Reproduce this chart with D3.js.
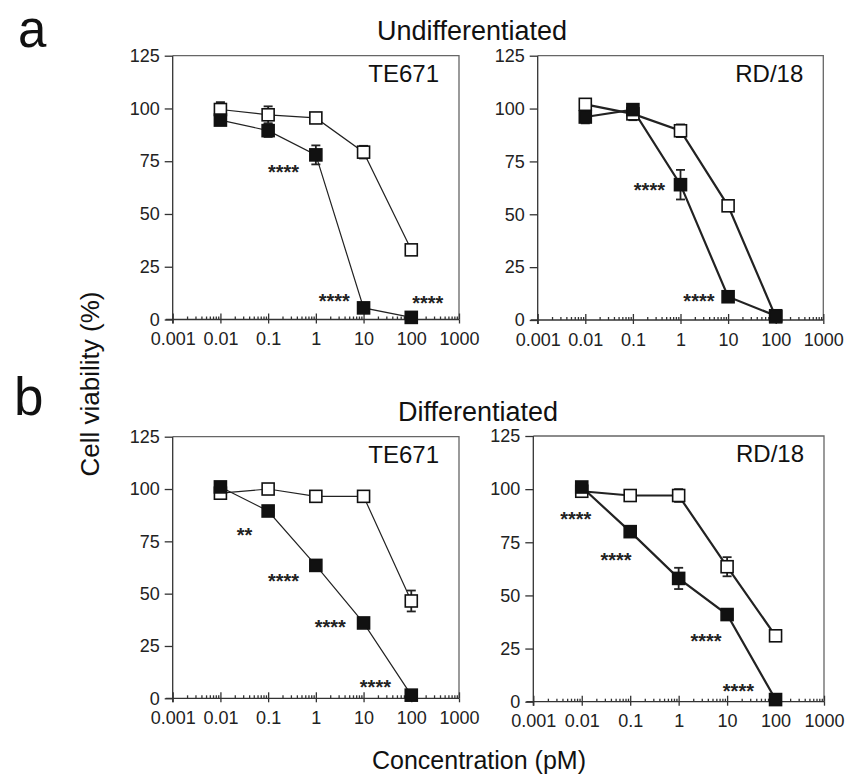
<!DOCTYPE html>
<meta charset="utf-8">
<body style="margin:0;background:#fff">

<svg width="846" height="776"></svg>

<script src="https://cdn.jsdelivr.net/npm/d3@7"></script>
<script>

// concentrations (pM) and axis ticks
var conc = [0.01, 0.1, 1, 10, 100];
var xTicks = [0.001, 0.01, 0.1, 1, 10, 100, 1000];
var xTickLabels = ['0.001', '0.01', '0.1', '1', '10', '100', '1000'];
var yTicks = [0, 25, 50, 75, 100, 125];

// a - undifferentiated, TE671
var undTeOpen = [99.5, 97, 95.5, 79.3, 33];
var undTeOpenErr = [3.5, 4, 1, 3, 1];
var undTeFilled = [94.5, 89.5, 78, 5.5, 1];
var undTeFilledErr = [2, 3, 4.5, 1, 0.5];
var undTeStars = [[0.21, 72, '****'], [2.43, 10.6, '****'], [221, 10, '****']];

// a - undifferentiated, RD/18
var undRdOpen = [102, 97.5, 89.5, 54, 1.5];
var undRdOpenErr = [1, 3, 3, 1, 0.5];
var undRdFilled = [96, 99.5, 64, 11, 2];
var undRdFilledErr = [3, 2, 7, 1, 1];
var undRdStars = [[0.222, 63.5, '****'], [2.44, 11, '****']];

// b - differentiated, TE671
var difTeOpen = [98, 100, 96.5, 96.5, 46.5];
var difTeOpenErr = [1, 1, 1, 1, 5];
var difTeFilled = [101, 89.5, 63.5, 36, 1.5];
var difTeFilledErr = [1, 1, 1, 1, 1];
var difTeStars = [[0.032, 80, '**'], [0.21, 58, '****'], [2.0, 36, '****'], [17.7, 7.2, '****']];

// b - differentiated, RD/18
var difRdOpen = [99, 97, 97, 63.5, 31];
var difRdOpenErr = [1, 1, 3, 4.5, 1];
var difRdFilled = [101, 80, 58, 41, 1];
var difRdFilledErr = [1, 1, 5, 1, 0.5];
var difRdStars = [[0.0075, 87.8, '****'], [0.051, 68.7, '****'], [3.67, 30.3, '****'], [17.1, 6.8, '****']];

var FONT = '"Liberation Sans", Arial, sans-serif';
var svg = d3.select('svg').style('font-family', FONT);

var panels = [
  {left: 172.7, right: 459, top: 55.7, bottom: 319.5, name: 'TE671', lw: 1.2,
   open: undTeOpen, openErr: undTeOpenErr, filled: undTeFilled, filledErr: undTeFilledErr, stars: undTeStars},
  {left: 537.7, right: 823.3, top: 55.7, bottom: 320, name: 'RD/18', lw: 2.2,
   open: undRdOpen, openErr: undRdOpenErr, filled: undRdFilled, filledErr: undRdFilledErr, stars: undRdStars},
  {left: 172.7, right: 459, top: 436.7, bottom: 698.3, name: 'TE671', lw: 1.2,
   open: difTeOpen, openErr: difTeOpenErr, filled: difTeFilled, filledErr: difTeFilledErr, stars: difTeStars},
  {left: 533.3, right: 824, top: 436, bottom: 701.7, name: 'RD/18', lw: 2.2,
   open: difRdOpen, openErr: difRdOpenErr, filled: difRdFilled, filledErr: difRdFilledErr, stars: difRdStars}
];

// minor log ticks 2..9 per decade
var minor = [];
for (var k = -3; k < 3; k++) {
  for (var m = 2; m < 10; m++) minor.push(+(m * Math.pow(10, k)).toPrecision(3));
}

panels.forEach(drawPanel);

function drawPanel(p) {
  var x = d3.scaleLog().domain([0.001, 1000]).range([p.left, p.right]);
  var y = d3.scaleLinear().domain([0, 125]).range([p.bottom, p.top]);
  var g = svg.append('g');

  // top and right border
  g.append('path')
    .attr('d', 'M' + p.left + ',' + p.top + 'H' + p.right + 'V' + p.bottom)
    .attr('fill', 'none').attr('stroke', '#666').attr('stroke-width', 1.3);

  // y axis
  var ya = g.append('g')
    .attr('transform', 'translate(' + p.left + ',0)')
    .call(d3.axisLeft(y).tickValues(yTicks).tickSize(8).tickSizeOuter(0).tickPadding(5));
  ya.select('.domain').attr('d', 'M0,' + p.top + 'V' + (p.bottom + 4));

  // x axis: minor ticks up, major ticks across
  g.append('g')
    .attr('transform', 'translate(0,' + p.bottom + ')')
    .call(d3.axisBottom(x).tickValues(minor).tickSize(-3).tickFormat(''))
    .select('.domain').remove();
  g.append('g')
    .attr('transform', 'translate(0,' + p.bottom + ')')
    .call(d3.axisBottom(x).tickValues(xTicks).tickSize(-6).tickFormat(''))
    .select('.domain').remove();
  var xa = g.append('g')
    .attr('transform', 'translate(0,' + p.bottom + ')')
    .call(d3.axisBottom(x).tickValues(xTicks).tickSize(4).tickSizeOuter(0).tickPadding(9)
      .tickFormat(function(d, i) { return xTickLabels[i]; }));
  xa.select('.domain').attr('d', 'M' + (p.left - 7) + ',0H' + p.right);

  g.selectAll('.tick line, .domain').attr('stroke', '#333').attr('stroke-width', 1.3);
  g.selectAll('.tick text').attr('font-size', 18).attr('font-family', FONT).attr('fill', '#222');

  var line = d3.line().x(function(d) { return x(d[0]); }).y(function(d) { return y(d[1]); });
  var series = [
    {vals: p.open, err: p.openErr, fill: '#fff'},
    {vals: p.filled, err: p.filledErr, fill: '#111'}
  ];

  series.forEach(function(s) {
    g.append('path')
      .attr('d', line(conc.map(function(c, i) { return [c, s.vals[i]]; })))
      .attr('fill', 'none').attr('stroke', '#222').attr('stroke-width', p.lw);
  });

  series.forEach(function(s) {
    var eb = g.append('g').attr('stroke', '#222').attr('stroke-width', 1.8);
    conc.forEach(function(c, i) {
      var cx = x(c), t = y(s.vals[i] + s.err[i]), b = y(s.vals[i] - s.err[i]);
      eb.append('line').attr('x1', cx).attr('x2', cx).attr('y1', t).attr('y2', b);
      eb.append('line').attr('x1', cx - 4.5).attr('x2', cx + 4.5).attr('y1', t).attr('y2', t);
      eb.append('line').attr('x1', cx - 4.5).attr('x2', cx + 4.5).attr('y1', b).attr('y2', b);
    });
  });

  series.forEach(function(s) {
    g.selectAll(null).data(conc).enter().append('rect')
      .attr('x', function(c) { return x(c) - 6; })
      .attr('y', function(c, i) { return y(s.vals[i]) - 6; })
      .attr('width', 12).attr('height', 12)
      .attr('fill', s.fill).attr('stroke', '#111').attr('stroke-width', 1.6);
  });

  g.selectAll(null).data(p.stars).enter().append('text')
    .attr('x', function(d) { return x(d[0]); })
    .attr('y', function(d) { return y(d[1]); })
    .attr('dy', '0.56em')
    .attr('text-anchor', 'middle')
    .attr('font-size', 20).attr('font-weight', 'bold').attr('fill', '#222')
    .text(function(d) { return d[2]; });

  g.append('text')
    .attr('x', p.right - 20).attr('y', p.top + 26)
    .attr('text-anchor', 'end').attr('font-size', 24).attr('fill', '#111')
    .text(p.name);
}

// titles and labels
svg.append('text').attr('x', 18).attr('y', 46.5).attr('font-size', 51).attr('fill', '#111').text('a');
svg.append('text').attr('x', 14).attr('y', 415).attr('font-size', 53).attr('fill', '#111').text('b');
svg.append('text').attr('x', 472).attr('y', 40).attr('text-anchor', 'middle')
  .attr('font-size', 27).attr('fill', '#111').text('Undifferentiated');
svg.append('text').attr('x', 478).attr('y', 421).attr('text-anchor', 'middle')
  .attr('font-size', 27).attr('fill', '#111').text('Differentiated');
svg.append('text').attr('transform', 'translate(99,384) rotate(-90)').attr('text-anchor', 'middle')
  .attr('font-size', 26).attr('fill', '#111').text('Cell viability (%)');
svg.append('text').attr('x', 479).attr('y', 769).attr('text-anchor', 'middle')
  .attr('font-size', 25).attr('fill', '#111').text('Concentration (pM)');

</script>
